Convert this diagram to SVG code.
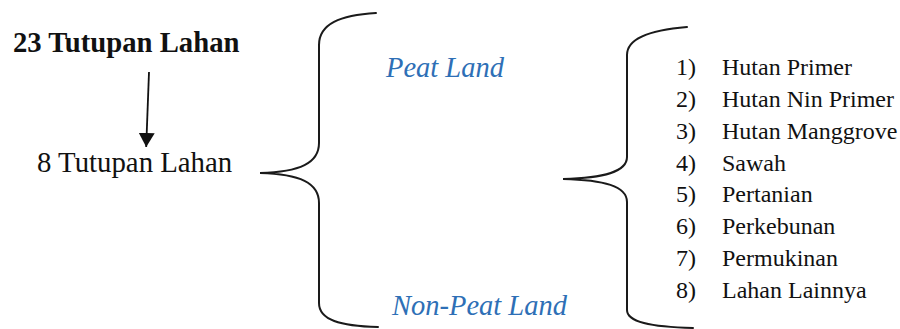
<svg xmlns="http://www.w3.org/2000/svg" width="900" height="329" viewBox="0 0 900 329">
<style>
  text { font-family: 'Liberation Serif', 'Times New Roman', Tinos, 'DejaVu Serif', serif; fill: #111; }
  .title { font-weight: bold; font-size: 28.7px; }
  .main { font-size: 28.8px; }
  .cat { font-style: italic; font-size: 28.5px; fill: #2E6FB6; }
  .item { font-size: 24px; }
  .brace { fill: none; stroke: #1a1a1a; stroke-width: 2; stroke-linecap: round; }
  .arrow { fill: none; stroke: #111; stroke-width: 1.8; }
</style>
<defs>
  <marker id="ahb" viewBox="0 0 14 16" refX="14" refY="8" markerWidth="14" markerHeight="16" orient="auto" markerUnits="userSpaceOnUse">
    <path d="M0,0 L14,8 L0,16 Z" fill="#111"/>
  </marker>
</defs>
<g id="node-23">
  <text class="title" font-family="Liberation Serif, serif" x="13" y="52">23 Tutupan Lahan</text>
</g>
<g id="node-8">
  <text class="main" font-family="Liberation Serif, serif" x="37" y="172">8 Tutupan Lahan</text>
</g>
<g id="node-peat">
  <text class="cat" font-family="Liberation Serif, serif" x="386" y="77">Peat Land</text>
</g>
<g id="node-nonpeat">
  <text class="cat" font-family="Liberation Serif, serif" x="392" y="315">Non-Peat Land</text>
</g>
<g id="node-list" font-family="Liberation Serif, serif">
  <text class="item" x="676" y="75">1)</text><text class="item" x="722" y="75">Hutan Primer</text>
  <text class="item" x="676" y="106.9">2)</text><text class="item" x="722" y="106.9">Hutan Nin Primer</text>
  <text class="item" x="676" y="138.7">3)</text><text class="item" x="722" y="138.7">Hutan Manggrove</text>
  <text class="item" x="676" y="170.6">4)</text><text class="item" x="722" y="170.6">Sawah</text>
  <text class="item" x="676" y="202.4">5)</text><text class="item" x="722" y="202.4">Pertanian</text>
  <text class="item" x="676" y="234.3">6)</text><text class="item" x="722" y="234.3">Perkebunan</text>
  <text class="item" x="676" y="266.1">7)</text><text class="item" x="722" y="266.1">Permukinan</text>
  <text class="item" x="676" y="298">8)</text><text class="item" x="722" y="298">Lahan Lainnya</text>
</g>
<g id="connectors">
  <line class="arrow" x1="149" y1="72" x2="146.2" y2="147" marker-end="url(#ahb)"/>
  <path class="brace" d="M376,13 C340,15 319,24 319,45 L319,143 C319,163 300,172 260,173 C300,174 319,183 319,203 L319,303 C319,320 340,326 378,327"/>
  <path class="brace" d="M687,27 C650,30 627,38 627,55 L627,157 C627,172 604,178 563,179 C604,180 627,186 627,202 L627,310 C627,322 650,327 693,328"/>
</g>
</svg>
